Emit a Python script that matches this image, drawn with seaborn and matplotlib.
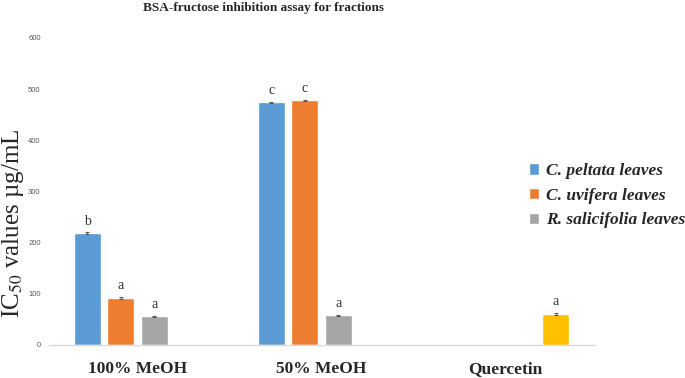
import numpy as np
import pandas as pd
import seaborn as sns
import matplotlib
matplotlib.use("Agg")
from matplotlib import pyplot as plt
from matplotlib.patches import Patch

# data
categories = ["100% MeOH", "50% MeOH", "Quercetin"]
series = ["C. peltata leaves", "C. uvifera leaves", "R. salicifolia leaves", "Quercetin"]
peltata = [218, 474, np.nan]
uvifera = [91, 478, np.nan]
salicifolia = [55, 57, np.nan]
quercetin = [np.nan, np.nan, 60]
err_peltata = [1.5, 1.5, np.nan]
err_uvifera = [1.5, 1.5, np.nan]
err_salicifolia = [1.5, 1.5, np.nan]
err_quercetin = [np.nan, np.nan, 2]
letters_peltata = ["b", "c", None]
letters_uvifera = ["a", "c", None]
letters_salicifolia = ["a", "a", None]
letters_quercetin = [None, None, "a"]

colors = ["#5B9BD5", "#ED7D31", "#A5A5A5", "#FFC000"]

rows = []
for s, vals, errs, lets in zip(series,
                               [peltata, uvifera, salicifolia, quercetin],
                               [err_peltata, err_uvifera, err_salicifolia, err_quercetin],
                               [letters_peltata, letters_uvifera, letters_salicifolia, letters_quercetin]):
    for c, v, e, l in zip(categories, vals, errs, lets):
        rows.append({"group": c, "series": s, "value": v, "err": e, "letter": l})
df = pd.DataFrame(rows).dropna(subset=["value"])

sns.set_style("white")
plt.rcParams["font.family"] = ["Liberation Serif", "DejaVu Serif"]
plt.rcParams["mathtext.fontset"] = "stix"

fig = plt.figure(figsize=(6.85, 3.78), dpi=100)
ax = fig.add_axes([0.0715, 0.0886, 0.7956, 0.811])

sns.barplot(data=df, x="group", y="value", hue="series", order=categories,
            hue_order=series, palette=colors, width=0.73, gap=0.2,
            errorbar=None, legend=False, saturation=1, ax=ax)

# error bars and significance letters
for s, cont in zip(series, ax.containers):
    sub = df[df["series"] == s].copy()
    sub["pos"] = sub["group"].map({c: i for i, c in enumerate(categories)})
    sub = sub.sort_values("pos")
    for bar, (_, r) in zip(cont, sub.iterrows()):
        xc = bar.get_x() + bar.get_width() / 2
        h = bar.get_height()
        ax.errorbar(xc, h, yerr=r["err"], color="#595959", capsize=1.5,
                    elinewidth=0.8, capthick=0.8)
        if r["letter"]:
            ax.annotate(r["letter"], (xc, h), xytext=(0, 4), textcoords="offset points",
                        ha="center", va="bottom", fontsize=10, color="#333333")

ax.set_ylim(0, 600)
ax.set_yticks(range(0, 601, 100))
ax.set_xlabel("")
ax.set_ylabel("")
for sp in ["top", "right", "left"]:
    ax.spines[sp].set_visible(False)
ax.spines["bottom"].set_color("#D9D9D9")
ax.spines["bottom"].set_linewidth(1)
ax.tick_params(axis="y", length=0, pad=6, labelsize=5.5, labelcolor="#595959")
for t in ax.get_yticklabels():
    t.set_family(["Liberation Sans", "DejaVu Sans"])
ax.tick_params(axis="x", length=0, pad=12, labelsize=12.5)
for t in ax.get_xticklabels():
    t.set_fontweight("bold")

fig.text(0.385, 0.978, "BSA-fructose inhibition assay for fractions",
         ha="center", va="center", fontsize=9.5, fontweight="bold")
fig.text(0.019, 1 - 223 / 378, "IC$_{50}$ values µg/mL", rotation=90,
         ha="center", va="center", fontsize=18)

handles = [Patch(facecolor=c) for c in colors[:3]]
fig.legend(handles, series[:3], loc="center left", bbox_to_anchor=(0.772, 0.482),
           frameon=False, handlelength=0.6, handleheight=0.6, handletextpad=0.4,
           labelspacing=0.5, borderaxespad=0, borderpad=0,
           prop={"style": "italic", "weight": "bold", "size": 12.5})

fig.savefig("out.png", dpi=100)
